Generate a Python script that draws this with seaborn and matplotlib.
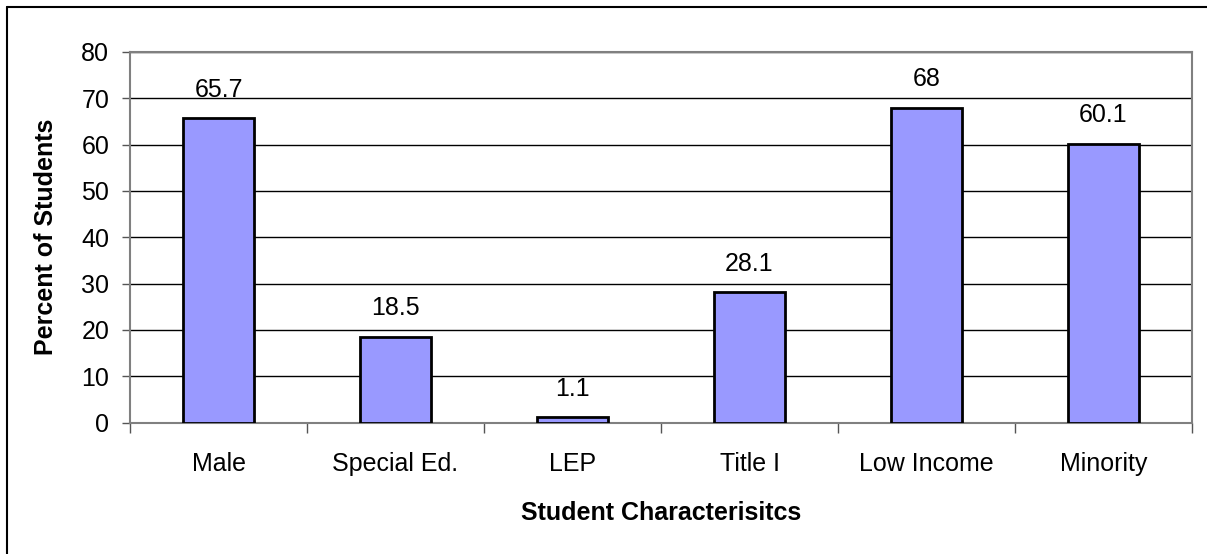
import matplotlib
matplotlib.use("Agg")
import matplotlib.pyplot as plt
import seaborn as sns
import pandas as pd
from matplotlib.lines import Line2D

categories = ["Male", "Special Ed.", "LEP", "Title I", "Low Income", "Minority"]
percents = [65.7, 18.5, 1.1, 28.1, 68, 60.1]
value_labels = ["65.7", "18.5", "1.1", "28.1", "68", "60.1"]

sns.set_style("white", {"text.color": "black", "axes.labelcolor": "black",
                        "xtick.color": "black", "ytick.color": "black"})
plt.rcParams["font.family"] = ["Liberation Sans", "DejaVu Sans"]

df = pd.DataFrame({"category": categories, "percent": percents})

fig = plt.figure(figsize=(12.07, 5.54), dpi=100)
ax = fig.add_axes([130 / 1207, 1 - 422.5 / 554, (1192 - 130) / 1207, (422.5 - 52) / 554])

sns.barplot(data=df, x="category", y="percent", ax=ax, color="#9999FF",
            saturation=1, width=0.4, edgecolor="black", linewidth=2, zorder=3)

for i, (v, lab) in enumerate(zip(percents, value_labels)):
    ax.text(i, v + 3.6, lab, ha="center", va="bottom", fontsize=18, color="black")

ax.set_xlim(-0.5, 5.5)
ax.set_ylim(0, 80)
ax.set_yticks(range(0, 81, 10))
ax.tick_params(axis="y", labelsize=18, length=6, width=1, color="#555555", labelcolor="black",
               pad=9, direction="out", left=True)
ax.set_xticks([i - 0.5 for i in range(7)], minor=False)
ax.set_xticklabels([])
ax.set_xticks(range(6), minor=True)
ax.set_xticklabels(categories, minor=True, fontsize=18, color="black")
ax.tick_params(axis="x", which="major", length=7, width=1, color="#555555", direction="out", bottom=True)
ax.tick_params(axis="x", which="minor", length=0, pad=21)

ax.yaxis.grid(True, color="black", linewidth=1, zorder=0)
ax.set_axisbelow(True)
for side in ["top", "right", "left", "bottom"]:
    ax.spines[side].set_visible(True)
    ax.spines[side].set_color("#808080")
    ax.spines[side].set_linewidth(1.5)

ax.set_ylabel("Percent of Students", fontsize=18, fontweight="bold", labelpad=17, color="black")
ax.set_xlabel("Student Characterisitcs", fontsize=18, fontweight="bold", labelpad=18, color="black")

# outer chart frame (only top and left edges show)
fig.add_artist(Line2D([7 / 1207, 1.0], [1 - 7 / 554, 1 - 7 / 554], color="black", linewidth=1.5, transform=fig.transFigure))
fig.add_artist(Line2D([7 / 1207, 7 / 1207], [0, 1 - 7 / 554], color="black", linewidth=1.5, transform=fig.transFigure))

fig.savefig("out.png", dpi=100)
